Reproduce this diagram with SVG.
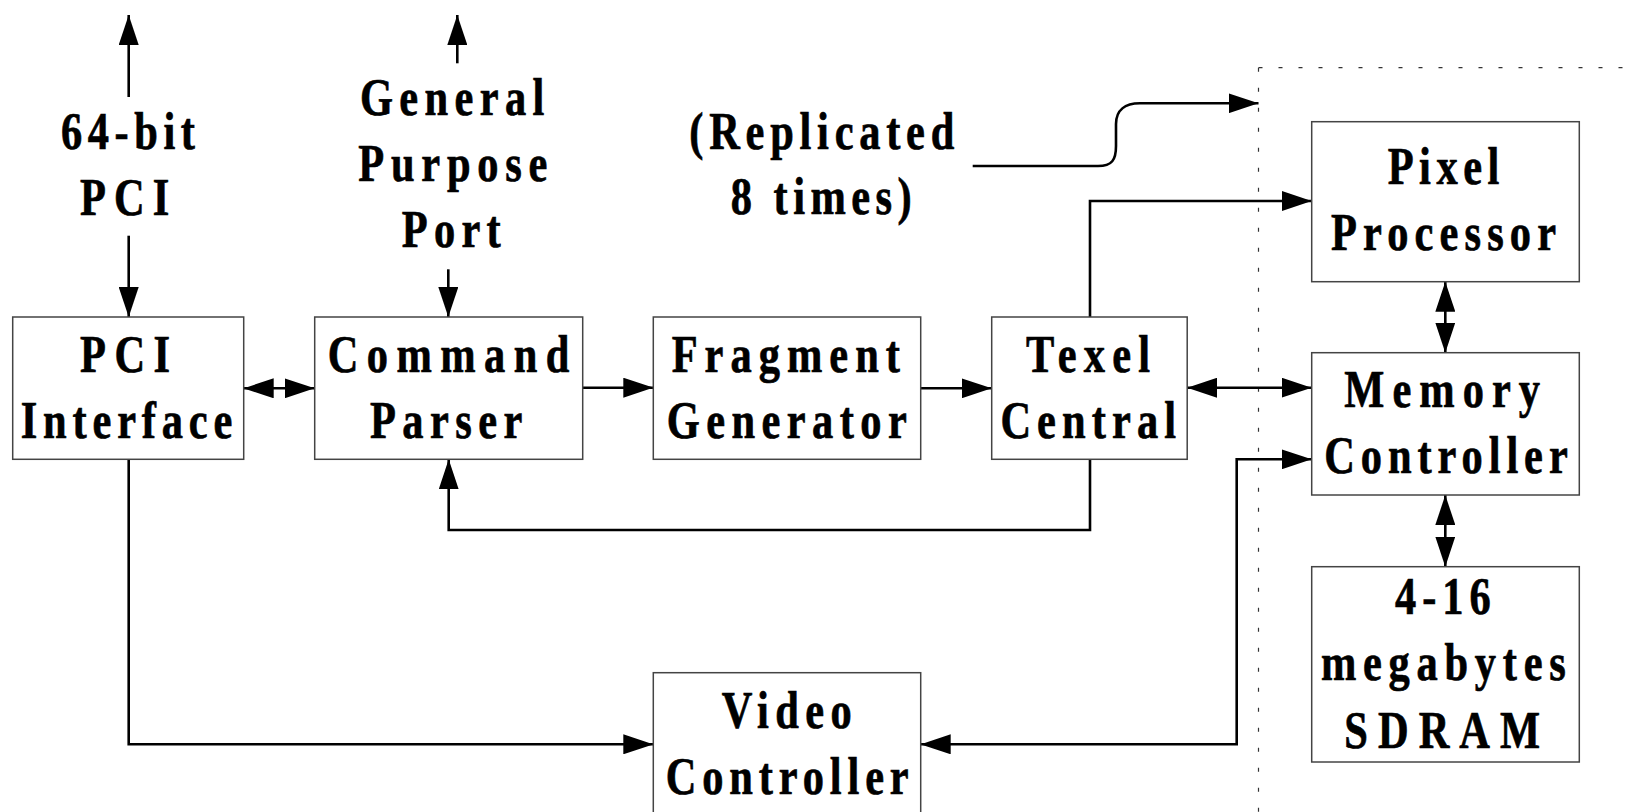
<svg xmlns="http://www.w3.org/2000/svg" width="1629" height="812" viewBox="0 0 1629 812">
<style>
.box{fill:#fff;stroke:#444;stroke-width:1.5}
.t{font-family:"Liberation Serif","Times New Roman",serif;font-weight:bold;font-size:53px;fill:#000;stroke:#000;stroke-width:0.7;transform:scale(0.8,1)}
.c{fill:none;stroke:#000;stroke-width:2.6}
.dot{fill:none;stroke:#333;stroke-width:1.2;stroke-dasharray:4 16}
</style>
<defs>
<marker id="ah" markerUnits="userSpaceOnUse" markerWidth="30" markerHeight="20" refX="30" refY="10" orient="auto-start-reverse" viewBox="0 0 30 20">
<path d="M0,0 L30,10 L0,20 z" fill="#000"/>
</marker>
</defs>
<rect width="1629" height="812" fill="#fff"/>
<g id="boundary">
<path class="dot" d="M1258.5,67.7 H1629"/>
<path class="dot" d="M1258.5,67.7 V812"/>
</g>
<g id="connectors">
<path class="c" d="M128.7,97 V15" marker-end="url(#ah)"/>
<path class="c" d="M128.7,235.7 V317" marker-end="url(#ah)"/>
<path class="c" d="M457.3,63.3 V15" marker-end="url(#ah)"/>
<path class="c" d="M448.3,269.3 V317" marker-end="url(#ah)"/>
<path class="c" d="M243.7,388.3 H314.7" marker-start="url(#ah)" marker-end="url(#ah)"/>
<path class="c" d="M582.7,387.7 H653.3" marker-end="url(#ah)"/>
<path class="c" d="M920.7,388.3 H991.7" marker-end="url(#ah)"/>
<path class="c" d="M1187.2,387.7 H1311.7" marker-start="url(#ah)" marker-end="url(#ah)"/>
<path class="c" d="M1090,317 V201 H1311.7" marker-end="url(#ah)"/>
<path class="c" d="M1090,459.3 V530 H448.7 V459.3" marker-end="url(#ah)"/>
<path class="c" d="M128.7,459.3 V744.3 H653.3" marker-end="url(#ah)"/>
<path class="c" d="M920.7,744.3 H1236.7 V459.3 H1311.7" marker-start="url(#ah)" marker-end="url(#ah)"/>
<path class="c" d="M1445.3,281.7 V352.7" marker-start="url(#ah)" marker-end="url(#ah)"/>
<path class="c" d="M1445.3,495 V566.7" marker-start="url(#ah)" marker-end="url(#ah)"/>
<path class="c" d="M972.7,166 H1098 C1112,166 1116,160 1116,146 V124 C1116,110 1125,103.3 1140,103.3 H1258.5" marker-end="url(#ah)"/>
</g>
<g id="label-pci-bus">
<text class="t" x="76.25" y="149.3" textLength="167.5" lengthAdjust="spacing">64-bit</text>
<text class="t" x="100" y="215" textLength="111.6" lengthAdjust="spacing">PCI</text>
</g>
<g id="label-gpp">
<text class="t" x="450" y="115" textLength="230.4" lengthAdjust="spacing">General</text>
<text class="t" x="447.9" y="180.7" textLength="236.25" lengthAdjust="spacing">Purpose</text>
<text class="t" x="502.1" y="247.3" textLength="123.75" lengthAdjust="spacing">Port</text>
</g>
<g id="label-replicated">
<text class="t" x="861.6" y="149.3" textLength="331.25" lengthAdjust="spacing">(Replicated</text>
<text class="t" x="913.4" y="214" textLength="226.25" lengthAdjust="spacing">8 times)</text>
</g>
<g id="pci-interface">
<rect class="box" x="12.7" y="317" width="231" height="142.3"/>
<text class="t" x="100" y="371.7" textLength="112.5" lengthAdjust="spacing">PCI</text>
<text class="t" x="25.9" y="438.3" textLength="264.5" lengthAdjust="spacing">Interface</text>
</g>
<g id="command-parser">
<rect class="box" x="314.7" y="317" width="268" height="142.3"/>
<text class="t" x="409.6" y="371.7" textLength="302" lengthAdjust="spacing">Command</text>
<text class="t" x="462.5" y="438.3" textLength="190.4" lengthAdjust="spacing">Parser</text>
</g>
<g id="fragment-generator">
<rect class="box" x="653.3" y="317" width="267.4" height="142.3"/>
<text class="t" x="839.6" y="371.7" textLength="285.4" lengthAdjust="spacing">Fragment</text>
<text class="t" x="833.4" y="438.3" textLength="300" lengthAdjust="spacing">Generator</text>
</g>
<g id="texel-central">
<rect class="box" x="991.7" y="317" width="195.5" height="142.3"/>
<text class="t" x="1282.5" y="371.7" textLength="155" lengthAdjust="spacing">Texel</text>
<text class="t" x="1250.5" y="438.3" textLength="219.5" lengthAdjust="spacing">Central</text>
</g>
<g id="pixel-processor">
<rect class="box" x="1311.7" y="121.7" width="267.6" height="160"/>
<text class="t" x="1734.6" y="184" textLength="139.5" lengthAdjust="spacing">Pixel</text>
<text class="t" x="1663.75" y="250" textLength="281.25" lengthAdjust="spacing">Processor</text>
</g>
<g id="memory-controller">
<rect class="box" x="1311.7" y="352.7" width="267.6" height="142.3"/>
<text class="t" x="1680.4" y="406.7" textLength="244.6" lengthAdjust="spacing">Memory</text>
<text class="t" x="1655.4" y="472.7" textLength="304.25" lengthAdjust="spacing">Controller</text>
</g>
<g id="sdram">
<rect class="box" x="1311.7" y="566.7" width="267.6" height="195.3"/>
<text class="t" x="1743.75" y="614.3" textLength="119.6" lengthAdjust="spacing">4-16</text>
<text class="t" x="1651.25" y="680" textLength="305.9" lengthAdjust="spacing">megabytes</text>
<text class="t" x="1680.4" y="747.7" textLength="244.6" lengthAdjust="spacing">SDRAM</text>
</g>
<g id="video-controller">
<rect class="box" x="653.3" y="672.7" width="267.4" height="145"/>
<text class="t" x="902.1" y="728.3" textLength="162.5" lengthAdjust="spacing">Video</text>
<text class="t" x="832.1" y="794" textLength="303.75" lengthAdjust="spacing">Controller</text>
</g>
</svg>
